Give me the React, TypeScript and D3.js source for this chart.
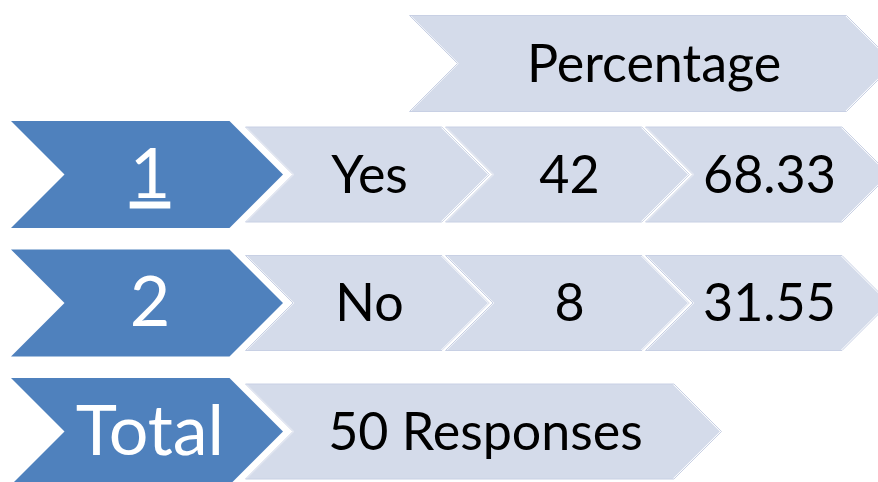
import React, { useEffect, useRef } from "react";
import * as d3 from "d3";

// table contents
const rowLabels = ["1", "2", "Total"];
const answers = ["Yes", "No"];
const counts = [42, 8];
const percentages = ["68.33", "31.55"];
const headerLabel = "Percentage";
const totalLabel = "50 Responses";

const W = 878;
const H = 482;
const BLUE = "#4f81bd";
const LIGHT = "#d4dbea";
const FONT = "Lato, 'Open Sans', sans-serif";

// chevron with point on the right and notch on the left
function chevron(x: number, y: number, w: number, h: number) {
  const d = h / 2;
  const p = d3.path();
  p.moveTo(x, y);
  p.lineTo(x + w - d, y);
  p.lineTo(x + w, y + h / 2);
  p.lineTo(x + w - d, y + h);
  p.lineTo(x, y + h);
  p.lineTo(x + d, y + h / 2);
  p.closePath();
  return p.toString();
}

export default function App() {
  const ref = useRef<SVGSVGElement>(null);

  useEffect(() => {
    const svg = d3.select(ref.current);
    svg.selectAll("*").remove();

    // row centres and column left edges
    const rowY = d3.scaleLinear().domain([0, 2]).range([174.5, 431.5]);
    const colX = d3.scaleLinear().domain([0, 3]).range([243, 843]);
    const blueH = 107;
    const lightH = 98;
    const lightW = 247;

    const light = (x: number, cy: number, w: number, h: number, label: string) => {
      svg.append("path")
        .attr("d", chevron(x, cy - h / 2, w, h))
        .attr("fill", LIGHT)
        .attr("stroke", "white")
        .attr("stroke-width", 3)
        .attr("stroke-linejoin", "miter");
      svg.append("path")
        .attr("d", chevron(x + 2.5, cy - h / 2 + 1.5, w - 3, h - 3))
        .attr("fill", "none")
        .attr("stroke", "#c8d0e4")
        .attr("stroke-width", 1);
      svg.append("text")
        .attr("x", x + w / 2 + 3)
        .attr("y", cy + 18)
        .attr("text-anchor", "middle")
        .attr("font-family", FONT)
        .attr("font-size", 52)
        .attr("fill", "#000")
        .text(label);
    };

    // header
    light(colX(1) - 36, 63.5, 488, 99, headerLabel);

    rowLabels.forEach((lab, i) => {
      const cy = rowY(i);
      svg.append("path")
        .attr("d", chevron(11, cy - blueH / 2, 272, blueH))
        .attr("fill", BLUE);
      svg.append("text")
        .attr("x", 150)
        .attr("y", cy + 23)
        .attr("text-anchor", "middle")
        .attr("font-family", FONT)
        .attr("font-size", 70)
        .attr("fill", "white")
        .attr("text-decoration", i === 0 ? "underline" : null)
        .text(lab);

      if (i < answers.length) {
        const cells = [answers[i], String(counts[i]), percentages[i]];
        cells.forEach((c, j) => light(colX(j), cy, lightW, lightH, c));
      } else {
        light(colX(0), cy, 479, lightH, totalLabel);
      }
    });
  }, []);

  return (
    <div style={{ position: "absolute", left: 0, top: 0 }}>
      <svg ref={ref} width={W} height={H} style={{ display: "block", background: "white" }} />
    </div>
  );
}
